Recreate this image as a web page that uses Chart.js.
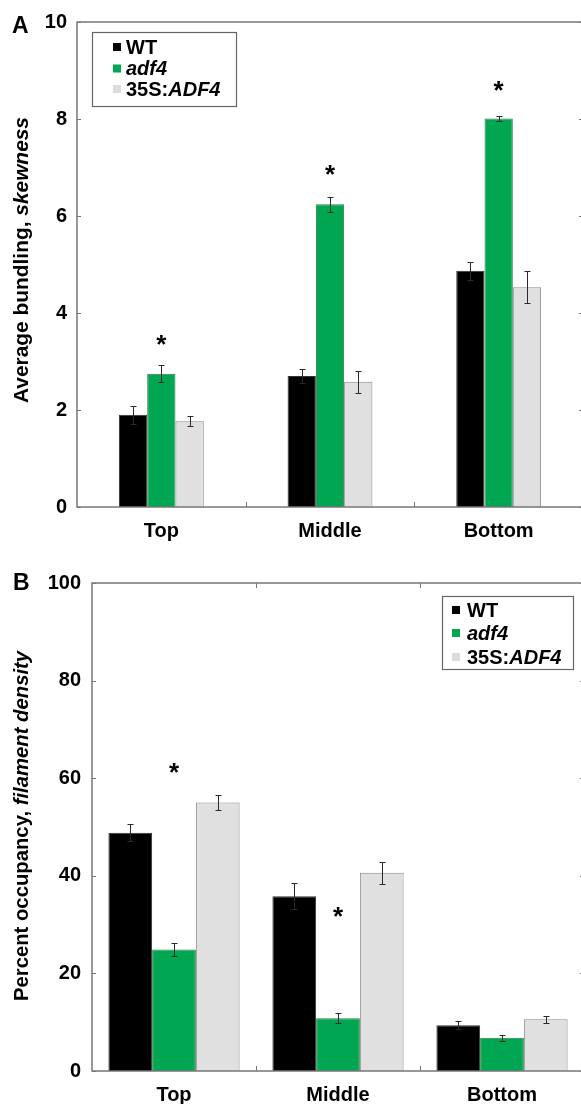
<!DOCTYPE html>
<html>
<head>
<meta charset="utf-8">
<script src="https://cdn.jsdelivr.net/npm/chart.js@4.4.1/dist/chart.umd.min.js"></script>
<style>
  html, body { margin: 0; padding: 0; background: #fff; width: 581px; height: 1104px; overflow: hidden; }
  canvas { position: absolute; left: 0; }
  #chartA { top: 0; }
  #chartB { top: 560px; }
</style>
</head>
<body>
<canvas id="chartA" width="600" height="550"></canvas>
<canvas id="chartB" width="600" height="544"></canvas>
<script>
// ── DATA ───────────────────────────────────────────────────────
const CATEGORIES    = ['Top', 'Middle', 'Bottom'];
const SERIES        = ['WT', 'adf4', '35S:ADF4'];
const SERIES_ITALIC = ['', 'adf4', 'ADF4'];   // part of each label set in italics

// Panel A: average bundling (skewness)
const A_WT       = [1.90, 2.70, 4.87];
const A_ADF4     = [2.75, 6.24, 8.01];
const A_OX       = [1.77, 2.58, 4.53];
const A_WT_ERR   = [0.18, 0.14, 0.19];
const A_ADF4_ERR = [0.18, 0.16, 0.06];
const A_OX_ERR   = [0.11, 0.23, 0.33];
const A_STARS    = [3.44, 6.95, 8.69];        // asterisk heights (data units), over adf4
const A_TICKS    = [0, 2, 4, 6, 8, 10];

// Panel B: percent occupancy (filament density)
const B_WT       = [48.8, 35.8, 9.4];
const B_ADF4     = [24.9, 10.8, 6.8];
const B_OX       = [55.0, 40.6, 10.6];
const B_WT_ERR   = [1.75, 2.65, 0.8];
const B_ADF4_ERR = [1.35, 1.0, 0.55];
const B_OX_ERR   = [1.6, 2.2, 0.75];
const B_STARS    = [62, 32.5, null];
const B_TICKS    = [0, 20, 40, 60, 80, 100];

// ── STYLE ──────────────────────────────────────────────────────
const FONT = '"Liberation Sans", Arial, Helvetica, sans-serif';
const BAR_COLORS  = ['#000000', '#00a651', '#e0e0e0'];
const BAR_BORDERS = ['#333333', '#2f7d4c', '#8a8a8a'];
const FRAME_COLOR = '#777777';

function font(size, italic) {
  return (italic ? 'italic ' : '') + 'bold ' + size + 'px ' + FONT;
}

// draw text made of normal + italic runs, starting at x
function drawRuns(ctx, runs, x, y, size) {
  runs.forEach(r => {
    ctx.font = font(size, r.i);
    ctx.fillText(r.t, x, y);
    x += ctx.measureText(r.t).width;
  });
}
function runsWidth(ctx, runs, size) {
  return runs.reduce((w, r) => { ctx.font = font(size, r.i); return w + ctx.measureText(r.t).width; }, 0);
}
function labelRuns(i) {
  const lab = SERIES[i], it = SERIES_ITALIC[i];
  if (!it) return [{ t: lab, i: false }];
  const k = lab.indexOf(it);
  return [{ t: lab.slice(0, k), i: false }, { t: it, i: true }, { t: lab.slice(k + it.length), i: false }];
}

// ── PLUGINS ────────────────────────────────────────────────────
const decorPlugin = {
  id: 'decor',
  afterDatasetsDraw(chart, args, o) {
    const { ctx, chartArea: a, scales: { x, y } } = chart;
    ctx.save();

    // error bars
    ctx.strokeStyle = '#2a2a2a';
    ctx.lineWidth = 1;
    chart.data.datasets.forEach((ds, di) => {
      const meta = chart.getDatasetMeta(di);
      meta.data.forEach((bar, i) => {
        const v = ds.data[i], e = ds.errors[i];
        const yt = Math.round(y.getPixelForValue(v + e)) + 0.5;
        const yb = Math.round(y.getPixelForValue(v - e)) + 0.5;
        const xc = Math.round(bar.x) + 0.5;
        ctx.beginPath();
        ctx.moveTo(xc, yt); ctx.lineTo(xc, yb);
        ctx.moveTo(xc - 3, yt); ctx.lineTo(xc + 3, yt);
        ctx.moveTo(xc - 3, yb); ctx.lineTo(xc + 3, yb);
        ctx.stroke();
      });
    });

    // frame
    ctx.strokeStyle = FRAME_COLOR;
    ctx.lineWidth = 1.5;
    ctx.strokeRect(a.left, a.top, a.right - a.left, a.bottom - a.top);

    // inward tick marks
    ctx.lineWidth = 1;
    ctx.beginPath();
    y.ticks.forEach(t => {
      const py = Math.round(y.getPixelForValue(t.value)) + 0.5;
      ctx.moveTo(a.left, py); ctx.lineTo(a.left + 4, py);
      ctx.moveTo(a.right, py); ctx.lineTo(a.right - 4, py);
    });
    for (let i = 1; i < CATEGORIES.length; i++) {
      const px = Math.round((x.getPixelForValue(i - 1) + x.getPixelForValue(i)) / 2) + 0.5;
      ctx.moveTo(px, a.bottom); ctx.lineTo(px, a.bottom - 5);
      if (o.topTicks) { ctx.moveTo(px, a.top); ctx.lineTo(px, a.top + 5); }
    }
    ctx.stroke();

    // significance asterisks over adf4 bars
    ctx.fillStyle = '#000';
    ctx.font = 'bold 26px ' + FONT;
    ctx.textAlign = 'center';
    ctx.textBaseline = 'alphabetic';
    const m = ctx.measureText('*');
    const mid = (m.actualBoundingBoxAscent - m.actualBoundingBoxDescent) / 2;
    const adf = chart.getDatasetMeta(1);
    o.stars.forEach((s, i) => {
      if (s == null) return;
      ctx.fillText('*', adf.data[i].x, y.getPixelForValue(s) + mid);
    });

    // legend
    const L = o.legend;
    ctx.fillStyle = '#fff';
    ctx.fillRect(L.x, L.y, L.w, L.h);
    ctx.strokeStyle = '#666';
    ctx.lineWidth = 1.2;
    ctx.strokeRect(L.x + 0.5, L.y + 0.5, L.w, L.h);
    ctx.textAlign = 'left';
    ctx.textBaseline = 'middle';
    SERIES.forEach((s, i) => {
      const ry = L.y + L.rows[i];
      ctx.fillStyle = i === 2 ? '#dcdcdc' : BAR_COLORS[i];
      ctx.fillRect(L.x + L.mx, ry - L.ms / 2, L.ms, L.ms);
      ctx.fillStyle = '#000';
      drawRuns(ctx, labelRuns(i), L.x + L.tx, ry + 1, 20);
    });

    // rotated axis title
    const T = o.title;
    ctx.save();
    ctx.translate(T.x, T.y);
    ctx.rotate(-Math.PI / 2);
    ctx.textBaseline = 'alphabetic';
    ctx.fillStyle = '#000';
    drawRuns(ctx, T.runs, -runsWidth(ctx, T.runs, T.size) / 2, 0, T.size);
    ctx.restore();

    // panel letter
    ctx.font = 'bold 23px ' + FONT;
    ctx.textAlign = 'left';
    ctx.textBaseline = 'alphabetic';
    ctx.fillText(o.letter.t, o.letter.x, o.letter.y);

    ctx.restore();
  }
};

// ── CHART FACTORY ──────────────────────────────────────────────
function makeChart(id, cfg) {
  const series = [cfg.wt, cfg.adf4, cfg.ox];
  const errs = [cfg.wtErr, cfg.adf4Err, cfg.oxErr];
  return new Chart(document.getElementById(id), {
    type: 'bar',
    data: {
      labels: CATEGORIES,
      datasets: SERIES.map((s, i) => ({
        label: s,
        data: series[i],
        errors: errs[i],
        backgroundColor: BAR_COLORS[i],
        borderColor: BAR_BORDERS[i],
        borderWidth: 1,
        categoryPercentage: cfg.catPct,
        barPercentage: 1,
      })),
    },
    options: {
      responsive: false,
      animation: false,
      layout: { padding: cfg.padding },
      plugins: {
        legend: { display: false },
        tooltip: { enabled: false },
        decor: cfg.decor,
      },
      scales: {
        x: {
          grid: { display: false, drawTicks: false },
          border: { display: false },
          ticks: { color: '#000', font: { family: FONT, size: 20, weight: 'bold' }, padding: cfg.xPad },
          afterFit: s => { s.height = cfg.xHeight; },
        },
        y: {
          min: 0,
          max: cfg.ticks[cfg.ticks.length - 1],
          grid: { display: false, drawTicks: false },
          border: { display: false },
          afterBuildTicks: s => { s.ticks = cfg.ticks.map(v => ({ value: v })); },
          ticks: { color: '#000', font: { family: FONT, size: 20, weight: 'bold' }, padding: cfg.yPad },
          afterFit: s => { s.width = cfg.yWidth; },
        },
      },
    },
    plugins: [decorPlugin],
  });
}

makeChart('chartA', {
  wt: A_WT, adf4: A_ADF4, ox: A_OX,
  wtErr: A_WT_ERR, adf4Err: A_ADF4_ERR, oxErr: A_OX_ERR,
  ticks: A_TICKS, catPct: 0.503,
  padding: { top: 19, right: 17, bottom: 0, left: 0 },
  xHeight: 43, yWidth: 77, xPad: 12, yPad: 10,
  decor: {
    stars: A_STARS, topTicks: false,
    legend: { x: 92, y: 32, w: 144, h: 74, rows: [15, 36.5, 57], mx: 21, ms: 8, tx: 34 },
    title: { x: 28, y: 260, size: 20.9, runs: [{ t: 'Average bundling, ', i: false }, { t: 'skewness', i: true }] },
    letter: { t: 'A', x: 12, y: 33 },
  },
});

makeChart('chartB', {
  wt: B_WT, adf4: B_ADF4, ox: B_OX,
  wtErr: B_WT_ERR, adf4Err: B_ADF4_ERR, oxErr: B_OX_ERR,
  ticks: B_TICKS, catPct: 0.8,
  padding: { top: 22, right: 16, bottom: 0, left: 0 },
  xHeight: 33, yWidth: 92, xPad: 12, yPad: 11,
  decor: {
    stars: B_STARS, topTicks: true,
    legend: { x: 442, y: 36, w: 131, h: 73, rows: [14, 37, 61], mx: 10, ms: 8, tx: 25 },
    title: { x: 28, y: 266, size: 20.3, runs: [{ t: 'Percent occupancy, ', i: false }, { t: 'filament density', i: true }] },
    letter: { t: 'B', x: 13, y: 30 },
  },
});
</script>
</body>
</html>
